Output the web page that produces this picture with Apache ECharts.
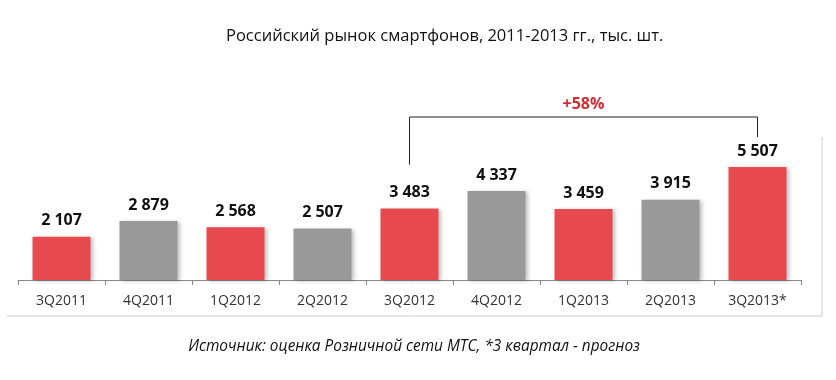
<!DOCTYPE html>
<html><head><meta charset="utf-8">
<script src="https://cdn.jsdelivr.net/npm/echarts@6/dist/echarts.min.js"></script>
<style>html,body{margin:0;padding:0;background:#fff}#c{width:836px;height:380px}</style>
</head><body><div id="c"></div>
<script>
const categories = ['3Q2011','4Q2011','1Q2012','2Q2012','3Q2012','4Q2012','1Q2013','2Q2013','3Q2013*'];
const values = [2107, 2879, 2568, 2507, 3483, 4337, 3459, 3915, 5507];
const barColors = ['#E64A4E','#999999','#E64A4E','#999999','#E64A4E','#999999','#E64A4E','#999999','#E64A4E'];
const titleText = 'Российский рынок смартфонов, 2011-2013 гг., тыс. шт.';
const footText = 'Источник: оценка Розничной сети МТС, *3 квартал - прогноз';
const growthText = '+58%';
const bracketFrom = 4, bracketTo = 8;

const chart = echarts.init(document.getElementById('c'), null, {renderer:'canvas'});
const fmt = v => String(v).replace(/\B(?=(\d{3})+(?!\d))/g, ' ');
chart.setOption({
  animation:false,
  title:{text:titleText,left:221,top:23,textStyle:{fontFamily:'Open Sans',fontSize:16.5,fontWeight:'normal',color:'#111'}},
  grid:{left:18,right:35,top:75,bottom:100,containLabel:false},
  xAxis:{type:'category',data:categories,
    axisLine:{lineStyle:{color:'#888',width:1}},
    axisTick:{show:true,alignWithLabel:false,length:5,lineStyle:{color:'#888'}},
    axisLabel:{color:'#333',fontFamily:'Open Sans',fontSize:14,margin:14}},
  yAxis:{type:'value',min:0,max:10000,show:false,splitLine:{show:false}},
  series:[{type:'bar',barWidth:58,
    data:values.map((v,i)=>({value:v,itemStyle:{color:barColors[i]}})),
    itemStyle:{shadowBlur:4,shadowColor:'rgba(0,0,0,0.25)',shadowOffsetX:2,shadowOffsetY:1},
    label:{show:true,position:'top',distance:8,formatter:p=>fmt(p.value),
      fontFamily:'Open Sans',fontSize:16,fontWeight:'bold',color:'#111'}}]
});
function addGraphics(){
  const x1 = chart.convertToPixel({xAxisIndex:0}, categories[bracketFrom]);
  const x2 = chart.convertToPixel({xAxisIndex:0}, categories[bracketTo]);
  const y1 = chart.convertToPixel({yAxisIndex:0}, values[bracketFrom]);
  const y2 = chart.convertToPixel({yAxisIndex:0}, values[bracketTo]);
  const top = 117;
  chart.setOption({graphic:[
    {type:'polyline',shape:{points:[[x1,y1-44],[x1,top],[x2,top],[x2,y2-30]]},style:{stroke:'#222',lineWidth:1,fill:null}},
    {type:'text',x:(x1+x2)/2,y:top-13,style:{text:growthText,fill:'#D42B2F',font:'bold 16px "Open Sans"',textAlign:'center',textVerticalAlign:'middle'}},
    {type:'polyline',shape:{points:[[7,316],[822,316],[822,137]]},style:{stroke:'#ccc',lineWidth:1,fill:null}},
    {type:'text',x:414,y:347,style:{text:footText,fill:'#111',font:'italic 15.4px "Open Sans"',textAlign:'center',textVerticalAlign:'middle'}}
  ]});
}
addGraphics();
</script></body></html>
